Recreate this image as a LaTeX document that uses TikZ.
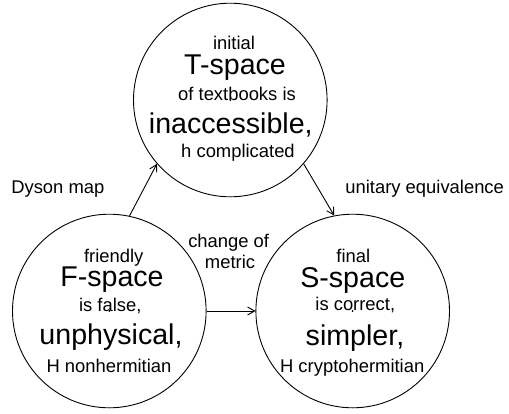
\documentclass[tikz,border=0pt]{standalone}
\usepackage{fontspec}
\setmainfont{Liberation Sans}
\usetikzlibrary{arrows.meta}
\begin{document}
\begin{tikzpicture}[x=1pt,y=-1pt,
  space/.style={draw, circle, minimum size=193.6pt, inner sep=0pt, line width=0.9pt},
  small/.style={inner sep=0pt, anchor=base, font=\fontsize{18.4}{20}\selectfont},
  big/.style={inner sep=0pt, anchor=base, font=\fontsize{28.6}{32}\selectfont},
  link/.style={line width=0.9pt, -{Straight Barb[length=7pt,width=8pt]}},
  centre/.style={fill, circle, inner sep=0pt, minimum size=2pt}]
\useasboundingbox (0,0) rectangle (509,413);
% circles
\node[space] (T) at (230.3,100) {};
\node[space] (F) at (109.3,311) {};
\node[space] (S) at (352.7,311) {};
\node[centre] (Tc) at (T.center) {};
\node[centre] (Fc) at (F.center) {};
\node[centre] (Sc) at (S.center) {};
% T texts
\node[small] (T1) at (234,49) {initial};
\node[big]   (T2) at (235,74) {T-space};
\node[small] (T3) at (237,100) {of textbooks is};
\node[big]   (T4) at (230.8,133) {inaccessible,};
\node[small] (T5) at (238,157) {h complicated};
% F texts
\node[small] (F1) at (113.7,262) {friendly};
\node[big]   (F2) at (112,286) {F-space};
\node[small] (F3) at (110.3,311) {is false,};
\node[big]   (F4) at (111,344) {unphysical,};
\node[small] (F5) at (109,372) {H nonhermitian};
% S texts
\node[small] (S1) at (353.3,262) {final};
\node[big]   (S2) at (352.8,287) {S-space};
\node[small] (S3) at (355.3,310) {is correct,};
\node[big]   (S4) at (355,345) {simpler,};
\node[small] (S5) at (352.2,372) {H cryptohermitian};
% labels
\node[small] (Ldyson) at (57.8,193) {Dyson map};
\node[small] (Lunit) at (424.7,193) {unitary equivalence};
\node[small] (Lch1) at (228.7,247) {change of};
\node[small] (Lch2) at (230,268) {metric};
% connectors
\draw[link] (F.78.6) -- (T.221.6);
\draw[link] (T.-41) -- (S.101.4);
\draw[link] (F.0) -- (S.180);
\end{tikzpicture}
\end{document}
